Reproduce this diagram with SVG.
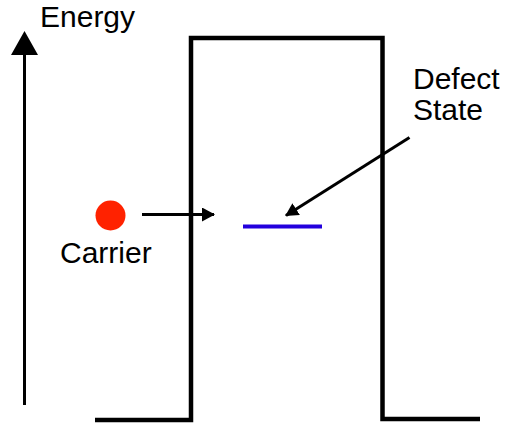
<svg xmlns="http://www.w3.org/2000/svg" width="507" height="427" viewBox="0 0 507 427">
<style>
.t{font-family:"Liberation Sans",Arial,sans-serif;font-size:30px;fill:#000}
.ln{stroke:#000;stroke-width:3;fill:none}
</style>
<defs>
<marker id="ah" markerWidth="13" markerHeight="14" refX="12" refY="7" orient="auto" markerUnits="userSpaceOnUse">
<path d="M0,0 L13,7 L0,14 Z" fill="#000"/>
</marker>
</defs>
<rect width="507" height="427" fill="#fff"/>
<g id="axis">
<line x1="24.5" y1="405" x2="24.5" y2="54" stroke="#000" stroke-width="3"/>
<path d="M24.5,31 L38,55 L11,55 Z" fill="#000"/>
<text class="t" x="40" y="27" font-size="30">Energy</text>
</g>
<g id="barrier">
<path d="M95,420 L191,420 L191,38 L382.5,38 L382.5,419 L480,419" fill="none" stroke="#000" stroke-width="4.5"/>
</g>
<g id="carrier">
<circle cx="110.5" cy="215.5" r="15" fill="#ff2200"/>
<text class="t" x="60" y="263">Carrier</text>
</g>
<g id="defect">
<line x1="243" y1="226.5" x2="322" y2="226.5" stroke="#2200dd" stroke-width="4"/>
<text class="t" x="413" y="89" font-size="29">Defect</text>
<text class="t" x="413" y="120" font-size="29">State</text>
</g>
<g id="connectors">
<line class="ln" x1="142" y1="214.5" x2="214" y2="214.5" marker-end="url(#ah)"/>
<line class="ln" x1="409.5" y1="137.5" x2="286" y2="215.5" marker-end="url(#ah)"/>
</g>
</svg>
